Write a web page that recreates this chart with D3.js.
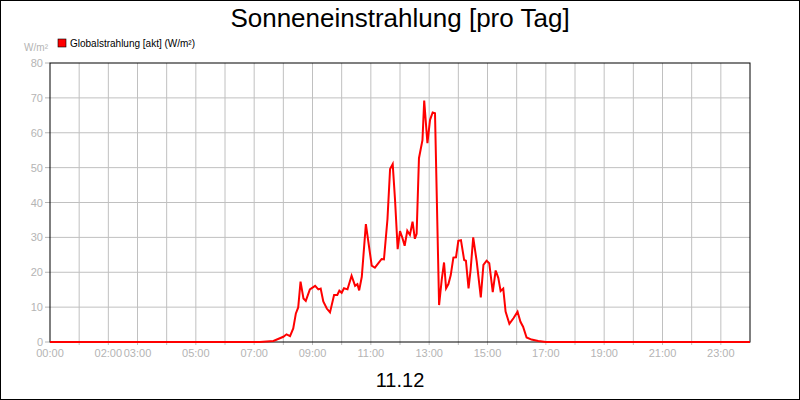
<!DOCTYPE html>
<html><head><meta charset="utf-8">
<script src="https://cdn.jsdelivr.net/npm/d3@7"></script>
<style>body{margin:0}svg{font-family:"Liberation Sans",Arial,sans-serif}</style>
</head><body><svg id="chart" width="800" height="400"></svg>
<script>
// readings, hour of day and W/m²
var hours = [0, 7.2, 7.66, 8.0, 8.11, 8.23, 8.34, 8.43, 8.51, 8.59, 8.69, 8.77, 8.91, 9.09, 9.2, 9.28, 9.37, 9.49, 9.6,
  9.74, 9.85, 9.92, 10.0, 10.08, 10.2, 10.34, 10.46, 10.54, 10.6, 10.69, 10.83, 11.03, 11.14, 11.26, 11.37, 11.45,
  11.57, 11.66, 11.75, 11.83, 11.92, 12.0, 12.08, 12.16, 12.25, 12.34, 12.43, 12.51, 12.57, 12.65, 12.77, 12.83,
  12.94, 13.03, 13.12, 13.2, 13.34, 13.43, 13.51, 13.58, 13.66, 13.74, 13.83, 13.92, 14.0, 14.09, 14.2, 14.26,
  14.35, 14.42, 14.51, 14.63, 14.77, 14.86, 14.97, 15.06, 15.18, 15.28, 15.37, 15.45, 15.54, 15.62, 15.75, 15.89,
  16.03, 16.13, 16.22, 16.34, 16.51, 16.74, 17.0, 24];
var values = [0, 0, 0.3, 1.5, 2.2, 1.7, 3.9, 8.2, 9.9, 17.3, 12.5, 11.8, 15.1, 16.1, 15.1, 15.3, 11.6, 9.6, 8.5,
  13.5, 13.5, 14.7, 14.1, 15.4, 15.1, 19.0, 16.1, 16.6, 14.8, 18.7, 33.8, 21.9, 21.3, 22.6, 23.8, 23.7,
  35.2, 49.6, 51, 40.7, 26.6, 31.8, 29.9, 27.6, 31.9, 30.7, 34.5, 29.6, 31, 52.7, 57.9, 69.2,
  57, 63.7, 65.8, 65.6, 10.6, 17.8, 22.8, 15.4, 16.6, 19.2, 24.2, 24.3, 29, 29.2, 23.5, 23.3,
  15.4, 20.6, 30, 23.1, 12.8, 22.1, 23.3, 22.6, 14.3, 20.5, 18.4, 14.6, 15.3, 8.7, 5.2, 6.8,
  8.7, 5.8, 4.4, 1.3, 0.7, 0.3, 0, 0];
var tickHours = [0, 2, 3, 5, 7, 9, 11, 13, 15, 17, 19, 21, 23];
var yTicks = [0, 10, 20, 30, 40, 50, 60, 70, 80];

var svg = d3.select("#chart");
var x = d3.scaleLinear().domain([0, 24]).range([50, 750]);
var y = d3.scaleLinear().domain([0, 80]).range([342, 63]);
var grey = "#b4b4b4";

svg.append("rect").attr("x", 0.5).attr("y", 0.5).attr("width", 799).attr("height", 399)
  .attr("fill", "#fff").attr("stroke", "#000");

svg.append("text").attr("x", 400).attr("y", 27).attr("text-anchor", "middle")
  .attr("font-size", 26).text("Sonneneinstrahlung [pro Tag]");

svg.append("rect").attr("x", 58).attr("y", 39).attr("width", 8).attr("height", 8)
  .attr("fill", "#f00").attr("stroke", "#000").attr("stroke-width", 0.6);
svg.append("text").attr("x", 70).attr("y", 47).attr("font-size", 10).text("Globalstrahlung [akt] (W/m²)");
svg.append("text").attr("x", 48).attr("y", 51).attr("text-anchor", "end").attr("font-size", 10)
  .attr("fill", grey).text("W/m²");

// grid
svg.append("g").selectAll("line").data(d3.range(1, 24)).enter().append("line")
  .attr("x1", function(d) { return x(d); }).attr("x2", function(d) { return x(d); })
  .attr("y1", y(80)).attr("y2", y(0) + 3).attr("stroke", "#c0c0c0");
svg.append("g").selectAll("line").data(yTicks.slice(1, -1)).enter().append("line")
  .attr("x1", x(0)).attr("x2", x(24))
  .attr("y1", function(d) { return y(d); }).attr("y2", function(d) { return y(d); })
  .attr("stroke", "#c0c0c0");

// axes labels
svg.append("g").selectAll("text").data(yTicks).enter().append("text")
  .attr("x", 43).attr("y", function(d) { return y(d) + 4; })
  .attr("text-anchor", "end").attr("font-size", 11).attr("fill", grey).text(function(d) { return d; });
svg.append("g").selectAll("line").data(yTicks).enter().append("line")
  .attr("x1", 45).attr("x2", 50).attr("y1", function(d) { return y(d); }).attr("y2", function(d) { return y(d); })
  .attr("stroke", grey);
svg.append("g").selectAll("text").data(tickHours).enter().append("text")
  .attr("x", function(d) { return x(d); }).attr("y", 357)
  .attr("text-anchor", "middle").attr("font-size", 11).attr("fill", grey)
  .text(function(d) { return (d < 10 ? "0" : "") + d + ":00"; });

svg.append("rect").attr("x", x(0)).attr("y", y(80)).attr("width", x(24) - x(0)).attr("height", y(0) - y(80))
  .attr("fill", "none").attr("stroke", "#000");

var line = d3.line().x(function(d, i) { return x(hours[i]); }).y(function(d) { return y(d); });
svg.append("path").datum(values).attr("d", line).attr("fill", "none")
  .attr("stroke", "#f00").attr("stroke-width", 2);

svg.append("text").attr("x", 400).attr("y", 387).attr("text-anchor", "middle")
  .attr("font-size", 20).text("11.12");
</script></body></html>
